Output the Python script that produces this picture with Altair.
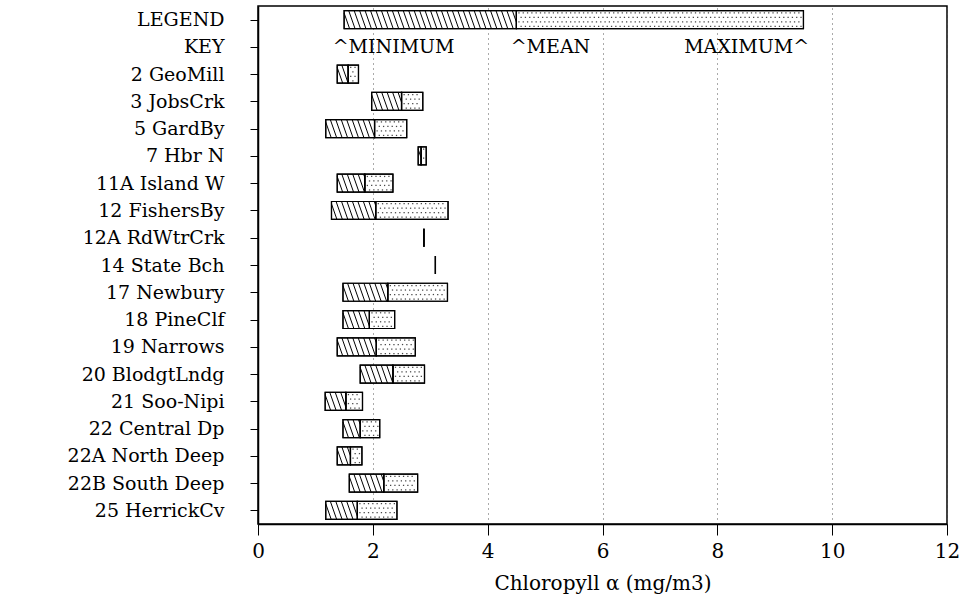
import json
import altair as alt
import pandas as pd

stations = ["LEGEND", "KEY", "2 GeoMill", "3 JobsCrk", "5 GardBy", "7 Hbr N",
            "11A Island W", "12  FishersBy", "12A RdWtrCrk", "14  State Bch",
            "17  Newbury", "18  PineClf", "19  Narrows", "20  BlodgtLndg",
            "21  Soo-Nipi", "22  Central Dp", "22A North Deep", "22B South Deep",
            "25  HerrickCv"]
minimum = [1.5, None, 1.38, 1.98, 1.18, 2.79, 1.38, 1.28, 2.89, 3.09, 1.48, 1.48,
           1.38, 1.78, 1.17, 1.48, 1.38, 1.59, 1.18]
mean = [4.5, None, 1.57, 2.50, 2.03, 2.84, 1.86, 2.05, 2.89, 3.09, 2.26, 1.94,
        2.06, 2.35, 1.53, 1.78, 1.61, 2.19, 1.73]
maximum = [9.5, None, 1.75, 2.87, 2.59, 2.93, 2.35, 3.31, 2.89, 3.09, 3.30, 2.38,
           2.74, 2.90, 1.82, 2.12, 1.81, 2.78, 2.42]
key_labels = ["^MINIMUM", "^MEAN", "MAXIMUM^"]
key_pos = [1.3, 4.4, 9.6]
key_align = ["left", "left", "right"]

FONT = "DejaVu Serif"
HALF = 0.33      # half bar thickness in row units
STEP = 0.095     # hatch spacing (x units)
DX = 0.11        # hatch slant (x units across the bar)
DOT = 0.075      # stipple spacing (x units)

df = pd.DataFrame({"idx": list(range(len(stations))), "station": stations,
                   "mn": minimum, "mean": mean, "mx": maximum})
df = df.dropna()
key_df = pd.DataFrame({"label": key_labels, "pos": key_pos, "align": key_align,
                       "idx": [stations.index("KEY")] * len(key_labels)})

label_expr = json.dumps(stations) + "[datum.value]"

yscale = alt.Scale(domain=[-0.5, len(stations) - 0.5], reverse=True, nice=False, zero=False)
xscale = alt.Scale(domain=[0, 12], nice=False, zero=False)

yaxis = alt.Axis(values=list(range(len(stations))), labelExpr=label_expr, title=None,
                 grid=False, tickSize=8, labelPadding=26, labelFont=FONT,
                 labelFontSize=19, labelColor="black", tickColor="black",
                 domainColor="black", domainWidth=1.5, labelBound=False)
xaxis = alt.Axis(values=[0, 2, 4, 6, 8, 10, 12], title="Chloropyll α (mg/m3)",
                 grid=True, gridDash=[1, 4], gridColor="#555", gridWidth=1,
                 tickSize=11, tickColor="black", labelFont=FONT, labelFontSize=20,
                 labelColor="black", labelPadding=6, titleFont=FONT,
                 titleFontSize=20, titleFontWeight="normal", titleColor="black",
                 titlePadding=12, domainColor="black", domainWidth=1.5,
                 labelFlush=False)

def enc(chart, xf, x2f, yf, y2f=None):
    e = dict(x=alt.X(xf, scale=xscale, axis=xaxis),
             y=alt.Y(yf, scale=yscale, axis=yaxis))
    if x2f:
        e["x2"] = x2f
    if y2f:
        e["y2"] = y2f
    return chart.encode(**e)

base = alt.Chart(df).transform_calculate(
    top=f"datum.idx - {HALF}", bot=f"datum.idx + {HALF}")

upper = enc(base.mark_rect(fill="white", stroke="black", strokeWidth=1.2),
            "mean:Q", "mx:Q", "top:Q", "bot:Q")

lower = enc(base.mark_rect(fill="white", stroke="black", strokeWidth=1.2),
            "mn:Q", "mean:Q", "top:Q", "bot:Q")

stipple = alt.Chart(df).transform_calculate(
    k="sequence(0, 90)", j="sequence(0, 4)"
).transform_flatten(["k"]).transform_flatten(["j"]).transform_calculate(
    sx=f"datum.mean + {DOT} * 0.6 + datum.k * {DOT} + (datum.j % 2) * {DOT} / 2",
    sy=f"datum.idx - {HALF} + (datum.j + 0.5) * {2 * HALF} / 4",
).transform_filter(f"datum.sx < datum.mx - {DOT} * 0.4")
stipple = enc(stipple.mark_square(size=1.6, color="#333", opacity=0.9),
              "sx:Q", None, "sy:Q")

hatch = alt.Chart(df).transform_calculate(
    k="sequence(0, 45)"
).transform_flatten(["k"]).transform_calculate(
    xt=f"datum.mn - {DX} + datum.k * {STEP}"
).transform_calculate(
    t0=f"max(0, (datum.mn - datum.xt) / {DX})",
    t1=f"min(1, (datum.mean - datum.xt) / {DX})",
).transform_filter("datum.t1 > datum.t0").transform_calculate(
    hx1=f"datum.xt + datum.t0 * {DX}",
    hx2=f"datum.xt + datum.t1 * {DX}",
    hy1=f"datum.idx - {HALF} + datum.t0 * {2 * HALF}",
    hy2=f"datum.idx - {HALF} + datum.t1 * {2 * HALF}",
)
hatch = enc(hatch.mark_rule(color="black", strokeWidth=1.0),
            "hx1:Q", "hx2:Q", "hy1:Q", "hy2:Q")

outline_lo = enc(base.mark_rect(fill=None, stroke="black", strokeWidth=1.2),
                 "mn:Q", "mean:Q", "top:Q", "bot:Q")
outline_hi = enc(base.mark_rect(fill=None, stroke="black", strokeWidth=1.2),
                 "mean:Q", "mx:Q", "top:Q", "bot:Q")

def key_text(align):
    c = alt.Chart(key_df).transform_filter(
        f"datum.align == '{align}'"
    ).mark_text(align=align, baseline="middle", font=FONT, fontSize=19,
                color="black")
    return enc(c, "pos:Q", None, "idx:Q").encode(text="label:N")

chart = alt.layer(upper, lower, stipple, hatch, outline_lo, outline_hi,
                  key_text("left"), key_text("right")).properties(
    width=689, height=518,
    autosize=alt.AutoSizeParams(type="none"),
    padding={"left": 258, "top": 6, "right": 20, "bottom": 80},
    background="white",
).configure_view(stroke="black", strokeWidth=1.5)

chart.save("out.html", embed_options={"renderer": "svg", "actions": False})
